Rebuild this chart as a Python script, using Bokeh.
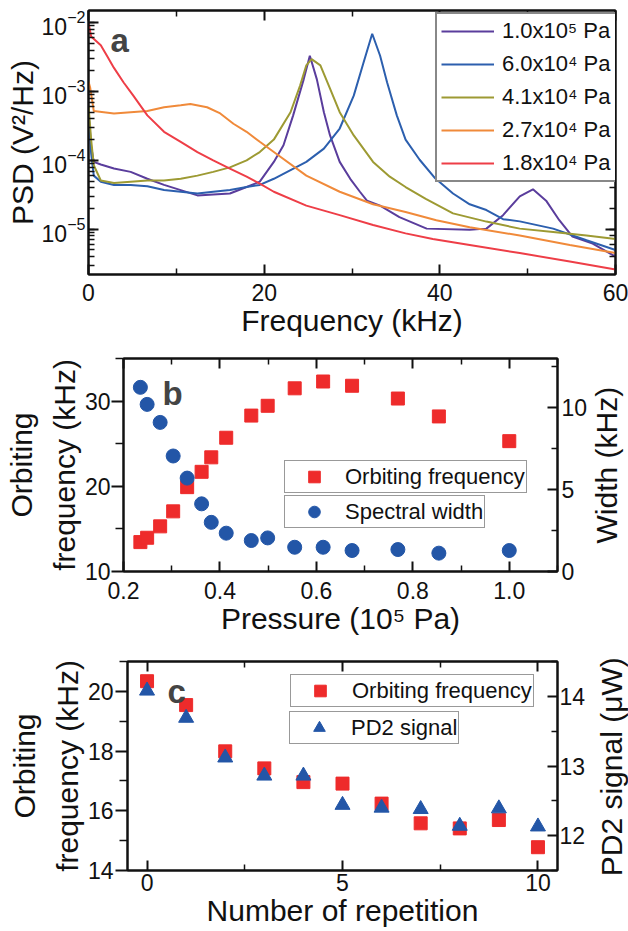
import math
from bokeh.plotting import figure
from bokeh.models import (Range1d, LinearAxis, LogAxis, FixedTicker, LogTicker,
                          Legend, LegendItem, Label, NumeralTickFormatter)
from bokeh.layouts import column, row
from bokeh.embed import file_html
from bokeh.resources import INLINE

FONT = "Liberation Sans"

# ---------------- Panel a: PSD spectra ----------------
freq_1e5 = [0.0, 0.3, 0.6, 1.4, 2.9, 4.8, 6.7, 8.6, 10.5, 12.4, 14.2, 16.1, 18.0, 19.5, 21.1, 22.2,
            23.3, 24.5, 25.2, 26.0, 26.8, 27.5, 28.6, 29.8, 30.9, 31.7, 33.2, 35.4, 38.5, 43.4,
            45.3, 47.2, 49.1, 50.6, 52.1, 53.6, 55.1, 57.4, 60.0]
psd_1e5 = [5.0e-4, 1.6e-4, 9.5e-5, 8.7e-5, 7.6e-5, 6.8e-5, 5.4e-5, 4.4e-5, 3.7e-5, 3.1e-5, 3.2e-5,
           3.3e-5, 4.1e-5, 4.9e-5, 9.5e-5, 1.66e-4, 4.5e-4, 1.5e-3, 3.3e-3, 1.5e-3, 5.0e-4,
           2.3e-4, 9.5e-5, 5.4e-5, 3.5e-5, 2.6e-5, 2.2e-5, 1.5e-5, 1.02e-5, 9.8e-6, 1.02e-5,
           1.6e-5, 3.0e-5, 3.8e-5, 2.6e-5, 1.35e-5, 7.8e-6, 6.2e-6, 4.0e-6]

freq_6e4 = [0.0, 0.3, 0.6, 1.4, 2.9, 4.8, 6.7, 8.6, 10.5, 12.4, 14.2, 16.1, 18.0, 19.5, 21.1, 24.8,
            26.8, 28.6, 30.2, 31.3, 32.3, 33.2, 34.0, 35.1, 36.1, 37.7, 39.4, 41.5, 43.4, 45.3,
            47.2, 49.1, 52.9, 56.7, 60.0]
psd_6e4 = [5.0e-4, 1.26e-4, 6.0e-5, 4.9e-5, 4.4e-5, 4.4e-5, 4.2e-5, 3.7e-5, 3.5e-5, 3.3e-5, 3.5e-5,
           3.7e-5, 4.1e-5, 4.4e-5, 5.4e-5, 9.5e-5, 1.48e-4, 2.9e-4, 8.7e-4, 2.6e-3, 6.9e-3,
           3.3e-3, 1.35e-3, 4.5e-4, 2.0e-4, 1.02e-4, 5.6e-5, 3.3e-5, 2.3e-5, 1.9e-5, 1.4e-5,
           1.3e-5, 1.02e-5, 6.9e-6, 5.0e-6]

freq_4e4 = [0.0, 0.3, 0.6, 1.4, 2.9, 4.8, 6.7, 8.6, 10.5, 12.4, 14.2, 16.1, 18.0, 19.5, 21.1, 23.0,
            24.1, 24.8, 25.4, 26.4, 27.5, 28.6, 30.2, 32.4, 34.3, 36.1, 38.4, 41.5, 45.3, 49.1,
            52.9, 56.7, 60.0]
psd_4e4 = [6.3e-4, 2.0e-4, 8.5e-5, 5.1e-5, 4.7e-5, 4.9e-5, 5.1e-5, 5.1e-5, 5.4e-5, 6.0e-5, 6.8e-5,
           7.9e-5, 1.0e-4, 1.32e-4, 2.0e-4, 5.0e-4, 1.23e-3, 2.4e-3, 2.95e-3, 2.4e-3, 1.1e-3,
           5.0e-4, 2.3e-4, 9.5e-5, 5.8e-5, 4.1e-5, 2.75e-5, 1.7e-5, 1.29e-5, 1.02e-5, 9.1e-6,
           8.1e-6, 7.2e-6]

freq_2e4 = [0.0, 0.2, 0.6, 2.9, 4.8, 6.7, 8.6, 10.5, 11.6, 13.5, 15.0, 16.5, 18.0, 19.5, 21.1, 24.8,
            28.6, 32.4, 36.1, 39.6, 43.4, 49.1, 54.8, 60.0]
psd_2e4 = [1.4e-3, 1.12e-3, 5.2e-4, 4.8e-4, 5.0e-4, 5.2e-4, 5.9e-4, 6.3e-4, 6.6e-4, 5.9e-4, 4.8e-4,
           3.4e-4, 2.6e-4, 1.86e-4, 1.32e-4, 6.0e-5, 3.5e-5, 2.3e-5, 1.78e-5, 1.35e-5, 1.07e-5,
           8.1e-6, 5.9e-6, 4.5e-6]

freq_1e4 = [0.0, 0.3, 1.4, 2.1, 2.9, 4.0, 5.1, 6.7, 8.6, 10.5, 12.4, 14.2, 16.1, 18.0, 19.5, 21.1,
            24.8, 28.6, 32.4, 36.1, 39.2, 43.4, 49.1, 54.8, 60.0]
psd_1e4 = [1.0e-2, 6.3e-3, 4.7e-3, 3.3e-3, 2.2e-3, 1.35e-3, 8.7e-4, 4.5e-4, 2.6e-4, 1.86e-4,
           1.32e-4, 1.0e-4, 7.6e-5, 5.8e-5, 4.6e-5, 3.5e-5, 2.2e-5, 1.6e-5, 1.15e-5, 8.7e-6,
           7.2e-6, 5.9e-6, 4.5e-6, 3.4e-6, 2.6e-6]

series_labels = ["1.0x10\u2075 Pa", "6.0x10\u2074 Pa", "4.1x10\u2074 Pa",
                 "2.7x10\u2074 Pa", "1.8x10\u2074 Pa"]
series_colors = ["#5a3d9c", "#2c5fae", "#9d9a33", "#f08a3a", "#ee3e47"]

# ---------------- Panel b ----------------
pressure = [0.235, 0.249, 0.276, 0.303, 0.332, 0.362, 0.382, 0.413, 0.465, 0.499, 0.555,
            0.614, 0.674, 0.769, 0.854, 1.0]
orbit_freq_b = [13.45, 13.96, 15.3, 17.06, 19.9, 21.7, 23.4, 25.7, 28.3, 29.45, 31.5,
                32.3, 31.8, 30.3, 28.2, 25.3]
spectral_width = [11.24, 10.2, 9.1, 7.05, 5.7, 4.13, 3.0, 2.34, 1.89, 2.05, 1.48,
                  1.48, 1.28, 1.34, 1.12, 1.28]

# ---------------- Panel c ----------------
repetition = [0, 1, 2, 3, 4, 5, 6, 7, 8, 9, 10]
orbit_freq_c = [20.34, 19.54, 17.99, 17.42, 16.96, 16.91, 16.24, 15.58, 15.41, 15.69, 14.78]
pd2_signal = [14.08, 13.69, 13.12, 12.86, 12.86, 12.44, 12.40, 12.38, 12.14, 12.39, 12.13]

RED = "#ee2b2b"
BLUE = "#2356a7"
TITLE_SIZE = "30px"


def style_axis(ax, tick_out=False, standoff=3, title_standoff=0, line_height=1.0):
    ax.major_label_text_font = FONT
    ax.major_label_text_font_size = "23px"
    ax.major_label_text_color = "#111111"
    ax.axis_label_text_font = FONT
    ax.axis_label_text_font_size = TITLE_SIZE
    ax.axis_label_text_font_style = "normal"
    ax.axis_label_text_color = "#111111"
    ax.axis_label_text_line_height = line_height
    ax.axis_line_width = 2
    ax.axis_line_color = "#111111"
    ax.major_tick_line_width = 2
    ax.minor_tick_line_width = 1.5
    ax.major_tick_line_color = "#111111"
    ax.minor_tick_line_color = "#111111"
    if tick_out:
        ax.major_tick_in, ax.major_tick_out = 0, 12
        ax.minor_tick_in, ax.minor_tick_out = 0, 8
    else:
        ax.major_tick_in, ax.major_tick_out = 10, 0
        ax.minor_tick_in, ax.minor_tick_out = 6, 0
    ax.major_label_standoff = standoff
    ax.axis_label_standoff = title_standoff


def mirror(ax):
    style_axis(ax, standoff=0)
    ax.major_label_text_font_size = "0px"
    ax.major_label_text_color = None


def base_fig(width, height, left, right, top, bottom, **kw):
    p = figure(width=width, height=height, output_backend="svg", toolbar_location=None,
               min_border_left=left, min_border_right=right, min_border_top=top,
               min_border_bottom=bottom, **kw)
    if "frame_align" in p.properties():
        p.frame_align = False
    p.xgrid.grid_line_color = None
    p.ygrid.grid_line_color = None
    p.outline_line_color = "#111111"
    p.outline_line_width = 2
    p.background_fill_color = "white"
    p.border_fill_color = "white"
    return p


def side_title(width, height, text, xf, yf):
    t = figure(width=width, height=height, output_backend="svg", toolbar_location=None,
               x_range=Range1d(0, 1), y_range=Range1d(0, 1), min_border=0,
               x_axis_location=None, y_axis_location=None)
    if "frame_align" in t.properties():
        t.frame_align = False
    t.xgrid.grid_line_color = None
    t.ygrid.grid_line_color = None
    t.outline_line_color = None
    t.add_layout(Label(x=xf, y=yf, text=text, angle=math.pi / 2, text_font=FONT,
                       text_font_size=TITLE_SIZE, text_color="#111111",
                       text_align="center", text_baseline="middle"))
    return t


# ===== Panel a =====  (frame: x 88-615, y 10-274)
pa = base_fig(628, 348, 88, 13, 10, 74, x_range=Range1d(0, 60), y_range=Range1d(2.2e-6, 1.5e-2),
              y_axis_type="log")
xa_ticker = FixedTicker(ticks=[0, 20, 40, 60], minor_ticks=[10, 30, 50])
pa.xaxis.ticker = xa_ticker
pa.xaxis.axis_label = "Frequency (kHz)"
pa.yaxis.axis_label = "PSD (V\u00b2/Hz)"
style_axis(pa.xaxis[0], standoff=9, title_standoff=0)
style_axis(pa.yaxis[0], standoff=3, title_standoff=0)
ta = LinearAxis(ticker=xa_ticker)
mirror(ta)
pa.add_layout(ta, "above")
ra = LogAxis(ticker=LogTicker())
mirror(ra)
pa.add_layout(ra, "right")

curves = [(freq_1e5, psd_1e5), (freq_6e4, psd_6e4), (freq_4e4, psd_4e4),
          (freq_2e4, psd_2e4), (freq_1e4, psd_1e4)]
items = []
for (fx, fy), lab, col in zip(curves, series_labels, series_colors):
    r = pa.line(fx, fy, line_color=col, line_width=2)
    items.append(LegendItem(label=lab, renderers=[r]))
leg_a = Legend(items=items, location=(347, 92), padding=4, glyph_width=53, glyph_height=26,
               label_height=26, label_width=110, spacing=7, label_standoff=8,
               label_text_font=FONT, label_text_font_size="22px", label_text_color="#111111",
               border_line_color="#111111", border_line_width=2, background_fill_alpha=1.0)
pa.add_layout(leg_a)
pa.add_layout(Label(x=2.5, y=5.48e-3, text="a", text_font=FONT, text_font_size="33px",
                    text_font_style="bold", text_baseline="alphabetic", text_align="left"))

# ===== Panel b =====  (frame: x 123-557, y 358-571; figure y 348-647)
pb = base_fig(590, 299, 123, 33, 10, 76, x_range=Range1d(0.2, 1.1), y_range=Range1d(10, 35))
pb.extra_y_ranges = {"w": Range1d(0, 13)}
xb_ticker = FixedTicker(ticks=[0.2, 0.4, 0.6, 0.8, 1.0], minor_ticks=[0.3, 0.5, 0.7, 0.9, 1.1])
pb.xaxis.ticker = xb_ticker
pb.xaxis.formatter = NumeralTickFormatter(format="0.0")
pb.xaxis.axis_label = "Pressure (10\u2075 Pa)"
style_axis(pb.xaxis[0], standoff=10, title_standoff=0)
pb.yaxis.ticker = FixedTicker(ticks=[10, 20, 30], minor_ticks=[15, 25, 35])
pb.yaxis.axis_label = "Orbiting\nfrequency (kHz)"
style_axis(pb.yaxis[0], tick_out=True, standoff=1, title_standoff=1, line_height=1.3)
rb = LinearAxis(y_range_name="w", ticker=FixedTicker(ticks=[0, 5, 10], minor_ticks=[2.5, 7.5, 12.5]))
style_axis(rb, standoff=4, title_standoff=0)
pb.add_layout(rb, "right")
tb = LinearAxis(ticker=xb_ticker)
mirror(tb)
pb.add_layout(tb, "above")

sq_b = pb.scatter(pressure, orbit_freq_b, marker="square", size=13, fill_color=RED, line_color=RED)
ci_b = pb.scatter(pressure, spectral_width, marker="circle", size=14, fill_color=BLUE,
                  line_color=BLUE, y_range_name="w")
for rend, lab, vy in [(sq_b, "Orbiting frequency", 78), (ci_b, "Spectral width", 43)]:
    pb.add_layout(Legend(items=[LegendItem(label=lab, renderers=[rend])], location=(161, vy),
                         padding=1, glyph_width=56, glyph_height=29, label_height=29,
                         label_standoff=3, label_text_font=FONT, label_text_font_size="22px",
                         label_text_color="#111111", border_line_color="#333333",
                         border_line_width=1, background_fill_alpha=1.0))
pb.add_layout(Label(x=0.281, y=30.94, text="b", text_font=FONT, text_font_size="33px",
                    text_font_style="bold", text_baseline="alphabetic", text_align="left"))
tb_fig = side_title(38, 299, "Width (kHz)", 0.43, 0.61)

# ===== Panel c =====  (frame: x 127-557, y 661-870; figure y 647-931)
pc = base_fig(590, 284, 127, 33, 14, 61, x_range=Range1d(-0.5, 10.5), y_range=Range1d(14, 21))
pc.extra_y_ranges = {"pd": Range1d(11.5, 14.5)}
xc_ticker = FixedTicker(ticks=[0, 5, 10], minor_ticks=[2.5, 7.5])
pc.xaxis.ticker = xc_ticker
pc.xaxis.axis_label = "Number of repetition"
style_axis(pc.xaxis[0], standoff=3, title_standoff=0)
pc.yaxis.ticker = FixedTicker(ticks=[14, 16, 18, 20], minor_ticks=[15, 17, 19, 21])
pc.yaxis.axis_label = "Orbiting\nfrequency (kHz)"
style_axis(pc.yaxis[0], tick_out=True, standoff=2, title_standoff=1, line_height=1.3)
rc = LinearAxis(y_range_name="pd",
                ticker=FixedTicker(ticks=[12, 13, 14], minor_ticks=[11.5, 12.5, 13.5, 14.5]))
style_axis(rc, standoff=2, title_standoff=0)
pc.add_layout(rc, "right")
tc = LinearAxis(ticker=xc_ticker)
mirror(tc)
pc.add_layout(tc, "above")

sq_c = pc.scatter(repetition, orbit_freq_c, marker="square", size=13, fill_color=RED, line_color=RED)
tr_c = pc.scatter(repetition, pd2_signal, marker="triangle", size=15, fill_color=BLUE,
                  line_color=BLUE, y_range_name="pd")
for rend, lab, vx, vy in [(sq_c, "Orbiting frequency", 163, 163), (tr_c, "PD2 signal", 162, 126)]:
    pc.add_layout(Legend(items=[LegendItem(label=lab, renderers=[rend])], location=(vx, vy),
                         padding=1, glyph_width=56, glyph_height=29, label_height=29,
                         label_standoff=4, label_text_font=FONT, label_text_font_size="22px",
                         label_text_color="#111111", border_line_color="#333333",
                         border_line_width=1, background_fill_alpha=1.0))
pc.add_layout(Label(x=0.526, y=19.99, text="c", text_font=FONT, text_font_size="33px",
                    text_font_style="bold", text_baseline="alphabetic", text_align="left"))
tc_fig = side_title(38, 284, "PD2 signal (\u03bcW)", 0.55, 0.58)

p = column(pa, row(pb, tb_fig, spacing=0), row(pc, tc_fig, spacing=0), spacing=0)
open("out.html", "w").write(file_html(p, INLINE))
